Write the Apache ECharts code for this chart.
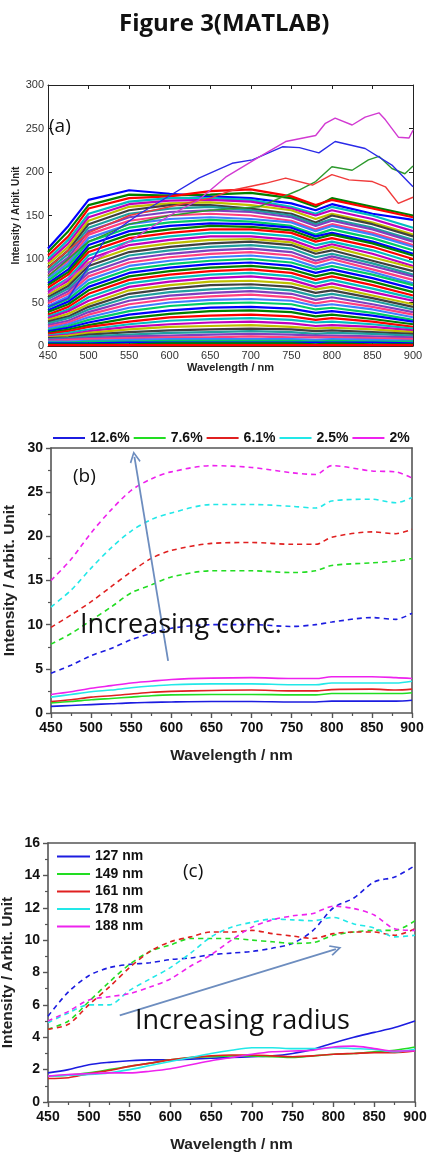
<!DOCTYPE html>
<html>
<head>
<meta charset="utf-8">
<script src="https://cdn.jsdelivr.net/npm/echarts@6/dist/echarts.min.js"></script>
<style>
html,body{margin:0;padding:0;background:#fff;}
#main{width:429px;height:1152px;}
</style>
</head>
<body>
<div id="main"></div>
<script>
// ---- panel (a): spectra, wavelength grid + one row per curve ----
var wlA=[450,475,500,550,600,650,700,750,780,800,850,900];
var massA=[
[112,138,168,179,175,172,170,164,156,163,152,145],
[108,132,162,174,173,174,176,170,160,170,160,150],
[104,126,158,170,172,178,180,172,162,168,158,148],
[100,122,152,166,170,170,168,160,152,160,150,136],
[97,118,148,163,167,168,166,158,150,156,146,132],
[94,114,144,160,164,165,162,156,146,152,142,128],
[90,110,140,156,162,162,158,152,142,150,140,126],
[87,106,136,152,158,160,156,150,140,146,136,122],
[84,102,132,148,154,156,154,148,138,144,134,120],
[81,98,128,144,150,152,150,144,134,140,130,116],
[78,95,124,140,146,148,146,142,132,138,128,114],
[75,92,120,136,142,145,143,138,128,134,124,110],
[72,88,116,132,138,141,140,136,126,130,120,106],
[70,85,112,128,134,138,137,133,123,128,118,104],
[67,82,108,124,130,134,134,130,120,124,114,100],
[64,78,104,120,126,130,130,126,116,120,110,96],
[62,75,100,116,122,126,126,122,112,117,106,92],
[59,72,96,112,118,122,123,119,109,114,102,90],
[56,69,92,108,114,118,120,116,106,110,98,86],
[54,66,88,104,110,114,116,112,102,106,95,82],
[51,63,84,100,106,110,112,108,98,103,92,80],
[49,60,80,96,102,106,108,104,95,100,88,76],
[46,57,76,92,98,102,104,100,91,96,85,72],
[44,54,72,88,94,98,100,96,88,92,82,70],
[41,51,68,84,90,94,96,92,84,88,78,66],
[39,48,64,80,86,90,92,88,80,84,74,62],
[36,45,60,76,82,86,88,84,76,80,70,58],
[34,42,56,72,78,82,84,80,72,76,66,55],
[32,40,52,68,74,78,80,76,68,72,62,52],
[30,37,48,64,70,74,75,72,65,68,58,48],
[28,34,45,60,66,70,71,68,61,64,55,45],
[26,32,42,56,62,65,67,64,57,60,52,42],
[24,29,39,52,58,61,63,60,53,56,48,39],
[22,27,36,48,54,57,59,56,49,52,45,36],
[20,25,33,44,50,53,54,52,46,48,42,33],
[18,23,30,40,46,49,50,48,42,44,38,30],
[17,21,27,36,41,44,45,43,38,40,35,28],
[15,19,24,32,37,40,41,39,34,36,31,25],
[14,17,22,28,33,35,36,34,30,32,28,22],
[12,15,19,25,29,31,32,30,27,28,25,20],
[11,13,17,22,25,27,28,26,23,24,22,18],
[10,12,15,19,22,23,24,22,20,21,19,16],
[9,10,13,16,18,19,20,19,17,18,16,14],
[8,9,11,13,15,16,17,16,14,15,14,12],
[7,8,9,11,12,13,14,13,12,12,11,10],
[6,7,8,9,10,10,11,10,10,10,9,8],
[5,5,6,7,8,8,8,8,7,8,7,6],
[4,4,5,5,6,6,6,6,5,6,5,5],
[3,3,3,4,4,4,4,4,4,4,4,3],
[2,2,2,2,3,3,3,3,2,3,2,2],
[1,1,1,1,1,1,1,1,1,1,1,1]
];
var paletteA=['#0000ff','#008000','#ff0000','#00bfbf','#bf00bf','#bfbf00','#404040','#1f9f9f','#7f3fbf','#ff3f7f','#3f7fff','#00cc66'];

// outliers in (a)
var magX=[450,500,550,600,636,669,710,743,780,792,804,825,841,858,866,882,895,900];
var magY=[60,95,120,150,168,194,217,235,242,256,262,254,263,268,260,240,239,248];
var bluX=[450,475,493,522,563,604,636,677,702,739,760,784,804,841,874,900];
var bluY=[45,55,81,125,152,175,193,210,214,229,228,222,235,227,208,183];
var grnX=[450,500,550,600,650,710,759,780,800,825,845,858,874,890,900];
var grnY=[80,120,140,150,156,160,179,189,206,202,214,218,204,198,207];
var redX=[450,500,550,600,650,677,718,743,776,800,821,850,866,882,900];
var redY=[90,130,150,160,170,179,187,193,185,197,191,189,183,164,171];

// ---- panel (b): concentration ----
var concNames=['12.6%','7.6%','6.1%','2.5%','2%'];
var wlB=[450,475,500,525,550,575,600,650,700,750,780,800,850,880,900];
var dashB=[
[4.5,5.4,6.5,7.3,8.3,9.0,9.6,10.0,10.0,9.8,10.0,10.3,10.8,10.6,11.3],
[7.8,9.0,10.5,12.0,13.6,14.5,15.4,16.1,16.1,15.9,16.1,16.7,17.0,17.2,17.5],
[9.7,11.1,12.6,14.3,16.0,17.5,18.4,19.2,19.3,19.1,19.1,19.9,20.5,20.3,20.8],
[12.0,13.9,16.4,18.7,20.6,21.9,22.65,23.6,23.6,23.4,23.2,24.0,24.2,23.8,24.4],
[15.0,17.4,20.4,23.0,25.2,26.5,27.3,28.0,27.8,27.2,27.0,28.0,27.4,27.3,26.6]
];
var solidB=[
[0.75,0.85,0.95,1.05,1.15,1.2,1.25,1.3,1.3,1.25,1.25,1.35,1.35,1.35,1.45],
[1.15,1.3,1.5,1.65,1.8,1.95,2.05,2.1,2.1,2.05,2.05,2.2,2.2,2.2,2.3],
[1.3,1.5,1.8,1.95,2.15,2.35,2.45,2.55,2.6,2.5,2.5,2.65,2.7,2.6,2.7],
[1.8,2.1,2.4,2.6,2.85,3.05,3.2,3.3,3.3,3.2,3.2,3.4,3.4,3.4,3.6],
[2.1,2.4,2.8,3.1,3.4,3.6,3.8,3.95,4.0,3.9,3.9,4.1,4.1,4.0,3.9]
];

// ---- panel (c): radius ----
var radNames=['127 nm','149 nm','161 nm','178 nm','188 nm'];
var wlC=[450,475,500,525,550,575,600,625,650,675,700,725,750,775,800,825,850,875,900];
var dashC=[
[5.3,6.8,7.8,8.3,8.5,8.6,8.8,8.9,9.1,9.2,9.3,9.5,9.8,10.6,12.0,12.6,13.6,13.9,14.6],
[4.5,5.0,6.2,7.4,8.5,9.3,9.7,10.1,10.1,10.1,10.0,9.9,9.8,9.85,10.3,10.5,10.6,10.6,11.2],
[4.5,4.8,6.0,7.1,8.3,9.3,9.9,10.2,10.5,10.5,10.6,10.4,10.25,10.1,10.4,10.5,10.5,10.3,10.7],
[4.9,5.5,6.0,6.0,6.9,7.6,8.3,9.2,10.2,10.8,11.1,11.3,11.25,11.2,11.4,11.0,10.75,10.2,10.3],
[5.0,5.6,6.3,6.5,6.7,7.1,7.6,8.4,9.1,10.0,10.8,11.25,11.5,11.65,12.1,11.95,11.55,10.7,10.6]
];
var solidC=[
[1.8,2.0,2.3,2.45,2.55,2.6,2.6,2.65,2.7,2.75,2.8,2.85,3.0,3.25,3.65,4.0,4.3,4.6,5.0],
[1.6,1.65,1.8,2.0,2.2,2.4,2.6,2.75,2.8,2.85,2.85,2.8,2.75,2.85,2.95,3.0,3.1,3.2,3.4],
[1.45,1.5,1.75,1.95,2.2,2.4,2.6,2.75,2.85,2.9,2.9,2.85,2.8,2.85,2.95,3.0,3.05,3.05,3.15],
[1.6,1.65,1.7,1.8,2.0,2.25,2.5,2.75,3.0,3.2,3.35,3.35,3.3,3.3,3.35,3.3,3.25,3.1,3.25],
[1.6,1.7,1.75,1.8,1.8,1.9,2.05,2.3,2.55,2.75,2.95,3.1,3.15,3.2,3.4,3.45,3.3,3.15,3.15]
];
var lineColors=['#1c1ce0','#22dd22','#e02020','#22e8e8','#ee22ee'];

var xTicks=[450,900,50];
var FONT='Liberation Sans';
var chevron='path://M5,0L10,10L8.8,11L5,3.4L1.2,11L0,10Z';

function pairs(xs,ys){
    var out=[];
    for(var i=0;i<xs.length;i++){out.push([xs[i],ys[i]]);}
    return out;
}

var series=[];
// (a)
for(var i=0;i<massA.length;i++){
    series.push({type:'line',xAxisIndex:0,yAxisIndex:0,showSymbol:false,silent:true,
        data:pairs(wlA,massA[i]),
        lineStyle:{width:2.2,color:paletteA[i%paletteA.length]}});
}
var outA=[[grnX,grnY,'#2e9a2e'],[redX,redY,'#f03a3a'],[bluX,bluY,'#2a2ae8'],[magX,magY,'#d23ad2']];
for(var i=0;i<outA.length;i++){
    series.push({type:'line',xAxisIndex:0,yAxisIndex:0,showSymbol:false,silent:true,
        data:pairs(outA[i][0],outA[i][1]),
        lineStyle:{width:1.4,color:outA[i][2]}});
}
// (b)
for(var i=0;i<5;i++){
    series.push({type:'line',name:concNames[i],xAxisIndex:2,yAxisIndex:2,showSymbol:false,smooth:0.3,
        data:pairs(wlB,solidB[i]),color:lineColors[i],
        lineStyle:{width:1.6,color:lineColors[i]}});
    series.push({type:'line',name:concNames[i],xAxisIndex:2,yAxisIndex:2,showSymbol:false,smooth:0.3,
        data:pairs(wlB,dashB[i]),color:lineColors[i],
        lineStyle:{width:1.6,color:lineColors[i],type:[5,4]}});
}
// (c)
for(var i=0;i<5;i++){
    series.push({type:'line',name:radNames[i],xAxisIndex:4,yAxisIndex:4,showSymbol:false,smooth:0.3,
        data:pairs(wlC,solidC[i]),color:lineColors[i],
        lineStyle:{width:1.6,color:lineColors[i]}});
    series.push({type:'line',name:radNames[i],xAxisIndex:4,yAxisIndex:4,showSymbol:false,smooth:0.3,
        data:pairs(wlC,dashC[i]),color:lineColors[i],
        lineStyle:{width:1.6,color:lineColors[i],type:[5,4]}});
}
// arrows
function arrowSeries(xi,yi,from,to){
    return {type:'line',xAxisIndex:xi,yAxisIndex:yi,data:[],silent:true,
        markLine:{silent:true,symbol:['none',chevron],symbolSize:[11,12],animation:false,
            label:{show:false},
            lineStyle:{color:'#6d8dbf',width:1.8,type:'solid'},
            data:[[{coord:from},{coord:to}]]}};
}
series.push(arrowSeries(2,2,[596,5.9],[554,29.0]));
series.push(arrowSeries(4,4,[538,5.35],[803,9.45]));

function mainX(gi,bold,minor,inside,nameGap){
    return {gridIndex:gi,type:'value',min:xTicks[0],max:xTicks[1],interval:xTicks[2],
        name:'Wavelength / nm',nameLocation:'middle',nameGap:nameGap,
        nameTextStyle:{fontFamily:FONT,fontWeight:'bold',fontSize:bold?15.5:11,color:'#222'},
        axisLine:{show:true,onZero:false,lineStyle:{color:bold?'#555':'#222',width:bold?1.6:1}},
        axisTick:{show:true,inside:inside,length:inside?4:5,lineStyle:{color:bold?'#555':'#222',width:bold?1.4:1}},
        minorTick:{show:minor,splitNumber:2,length:3,lineStyle:{color:'#555',width:1.2}},
        axisLabel:{fontFamily:FONT,fontSize:bold?14:11,fontWeight:bold?'bold':'normal',color:bold?'#111':'#333',margin:bold?8:4},
        splitLine:{show:false}};
}
function mainY(gi,max,itv,fs,bold,minor,inside,nameGap){
    return {gridIndex:gi,type:'value',min:0,max:max,interval:itv,
        name:'Intensity / Arbit. Unit',nameLocation:'middle',nameGap:nameGap,nameMoveOverlap:false,
        nameTextStyle:{fontFamily:FONT,fontWeight:'bold',fontSize:fs,color:'#222'},
        axisLine:{show:true,onZero:false,lineStyle:{color:bold?'#555':'#222',width:bold?1.6:1}},
        axisTick:{show:true,inside:inside,length:inside?4:5,lineStyle:{color:bold?'#555':'#222',width:bold?1.4:1}},
        minorTick:{show:minor,splitNumber:2,length:3,lineStyle:{color:'#555',width:1.2}},
        axisLabel:{fontFamily:FONT,fontSize:bold?14:11,fontWeight:bold?'bold':'normal',color:bold?'#111':'#333',margin:bold?8:4},
        splitLine:{show:false}};
}
function boxX(gi,ticks){
    return {gridIndex:gi,type:'value',position:'top',min:xTicks[0],max:xTicks[1],interval:xTicks[2],
        axisLine:{show:true,onZero:false,lineStyle:{color:ticks?'#222':'#555',width:ticks?1:1.6}},
        axisTick:{show:ticks,inside:true,length:4,lineStyle:{color:'#222'}},
        axisLabel:{show:false},splitLine:{show:false}};
}
function boxY(gi,max,itv,ticks){
    return {gridIndex:gi,type:'value',position:'right',min:0,max:max,interval:itv,
        axisLine:{show:true,onZero:false,lineStyle:{color:ticks?'#222':'#555',width:ticks?1:1.6}},
        axisTick:{show:ticks,inside:true,length:4,lineStyle:{color:'#222'}},
        axisLabel:{show:false},splitLine:{show:false}};
}

var myChart=echarts.init(document.getElementById('main'),null,{renderer:'canvas'});
var option={
    backgroundColor:'#fff',
    animation:false,
    grid:[
        {left:48,top:85,width:365,height:261,outerBoundsMode:'none',containLabel:false},
        {left:51,top:448,width:361,height:265,outerBoundsMode:'none',containLabel:false},
        {left:48,top:843,width:367,height:259,outerBoundsMode:'none',containLabel:false}
    ],
    xAxis:[
        mainX(0,false,false,true,16),boxX(0,true),
        mainX(1,true,true,false,35),boxX(1,false),
        mainX(2,true,true,false,35),boxX(2,false)
    ],
    yAxis:[
        mainY(0,300,50,10,false,false,true,27),boxY(0,300,50,true),
        mainY(1,30,5,15.5,true,true,false,33),boxY(1,30,5,false),
        mainY(2,16,2,15.5,true,true,false,32),boxY(2,16,2,false)
    ],
    legend:[
        {data:concNames,orient:'horizontal',left:53,top:431,padding:0,icon:'rect',itemWidth:32,itemHeight:2,itemGap:4,
            selectedMode:false,textStyle:{fontFamily:FONT,fontWeight:'bold',fontSize:14,color:'#111'}},
        {data:radNames,orient:'vertical',left:57,top:848,padding:0,icon:'rect',itemWidth:33,itemHeight:2,itemGap:0.5,
            selectedMode:false,textStyle:{fontFamily:FONT,fontWeight:'bold',fontSize:14,lineHeight:17,color:'#111'}}
    ],
    graphic:[
        {type:'text',left:119,top:12,style:{text:'Figure 3(MATLAB)',font:'bold 24px "Open Sans"',fill:'#111'}},
        {type:'text',left:49,top:117,style:{text:'(a)',font:'19px "Open Sans"',fill:'#111'}},
        {type:'text',left:73,top:467,style:{text:'(b)',font:'19px "Open Sans"',fill:'#111'}},
        {type:'text',left:183,top:862,style:{text:'(c)',font:'19px "Open Sans"',fill:'#111'}},
        {type:'text',left:80,top:612,z:100,style:{text:'Increasing conc.',font:'27px "Open Sans"',fill:'#111'}},
        {type:'text',left:135,top:1008,z:100,style:{text:'Increasing radius',font:'27px "Open Sans"',fill:'#111'}}
    ],
    series:series
};
myChart.setOption(option);
</script>
</body>
</html>
